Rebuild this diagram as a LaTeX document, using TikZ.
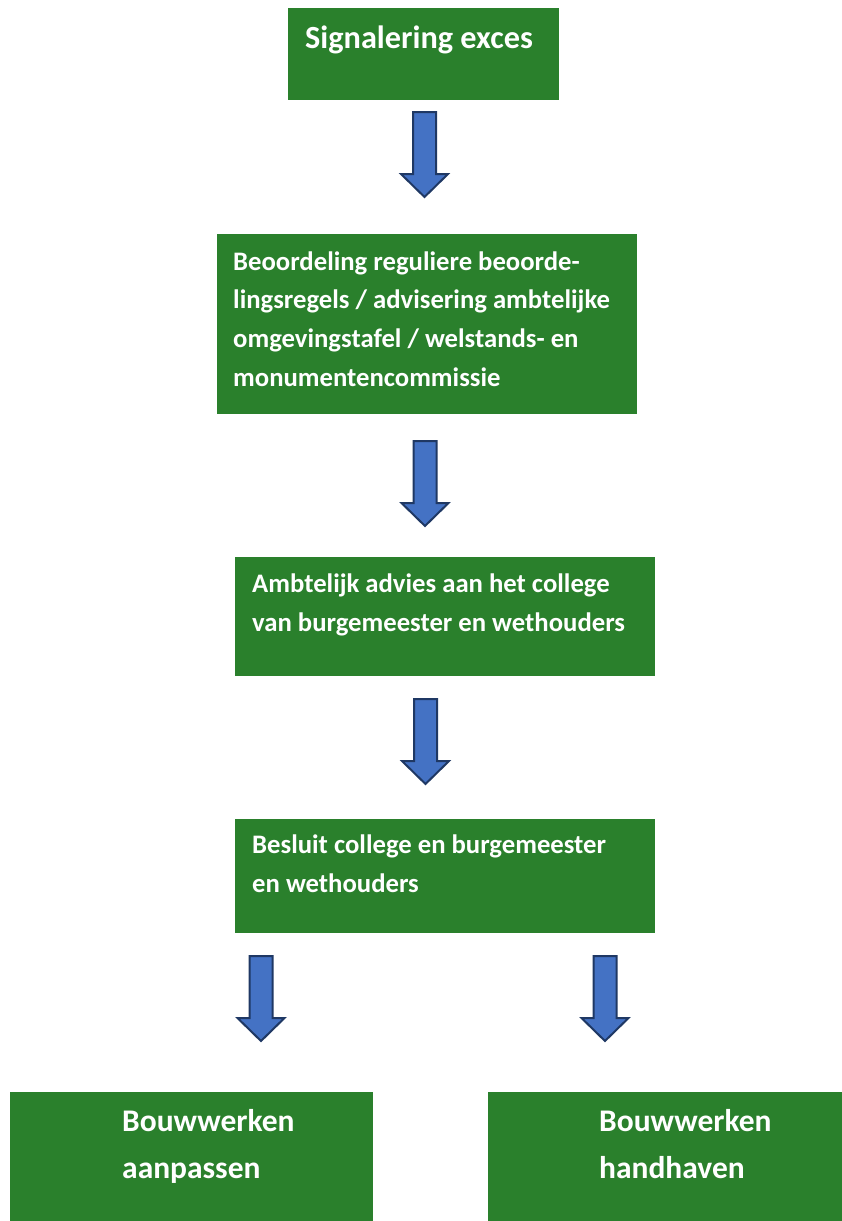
\documentclass[tikz,border=0pt]{standalone}
\usepackage{fontspec}
\setmainfont{Carlito}
\definecolor{boxgreen}{RGB}{42,128,44}
\definecolor{arrowblue}{RGB}{68,114,196}
\definecolor{arrowedge}{RGB}{31,56,100}
\tikzset{
  greenbox/.style={draw=none,fill=boxgreen,rectangle,anchor=north west,inner sep=0pt},
  boxtext/.style={text=white,font=\bfseries\fontsize{26.8}{38.8}\selectfont,anchor=base west,inner sep=0pt,align=left},
  bigtext/.style={text=white,font=\bfseries\fontsize{31.6}{47}\selectfont,anchor=base west,inner sep=0pt,align=left},
  arrowshape/.style={fill=arrowblue,draw=arrowedge,line width=2bp,line join=miter},
  barrow/.pic={\draw[arrowshape] (-11.5,0) -- (11.5,0) -- (11.5,62) -- (23.5,62) -- (0,85) -- (-23.5,62) -- (-11.5,62) -- cycle;}
}
\begin{document}
\begin{tikzpicture}[x=1bp,y=-1bp]
\useasboundingbox (0,0) rectangle (842,1221);
% boxes
\node[greenbox,minimum width=271bp,minimum height=92bp] (b1) at (288,8) {};
\node[greenbox,minimum width=420bp,minimum height=180bp] (b2) at (217,234) {};
\node[greenbox,minimum width=420bp,minimum height=119bp] (b3) at (235,557) {};
\node[greenbox,minimum width=420bp,minimum height=114bp] (b4) at (235,819) {};
\node[greenbox,minimum width=363bp,minimum height=130bp] (b5) at (10,1092) {};
\node[greenbox,minimum width=355bp,minimum height=130bp] (b6) at (488,1092) {};
% texts (anchored at the baseline of their last line)
\node[boxtext,font=\bfseries\fontsize{32.4}{38}\selectfont] (t1) at (305,48) {Signalering exces};
\node[boxtext] (t2) at (233,386) {Beoordeling reguliere beoorde-\\lingsregels / advisering ambtelijke\\omgevingstafel / welstands- en\\monumentencommissie};
\node[boxtext] (t3) at (252,631) {Ambtelijk advies aan het college\\van burgemeester en wethouders};
\node[boxtext] (t4) at (252,892) {Besluit college en burgemeester\\en wethouders};
\node[bigtext] (t5) at (122,1178) {Bouwwerken\\aanpassen};
\node[bigtext] (t6) at (599,1178) {Bouwwerken\\handhaven};
% block arrows
\pic at (424.5,112) {barrow};
\pic at (425,441) {barrow};
\pic at (425.5,699) {barrow};
\pic at (261,956) {barrow};
\pic at (605,956) {barrow};
\end{tikzpicture}
\end{document}
